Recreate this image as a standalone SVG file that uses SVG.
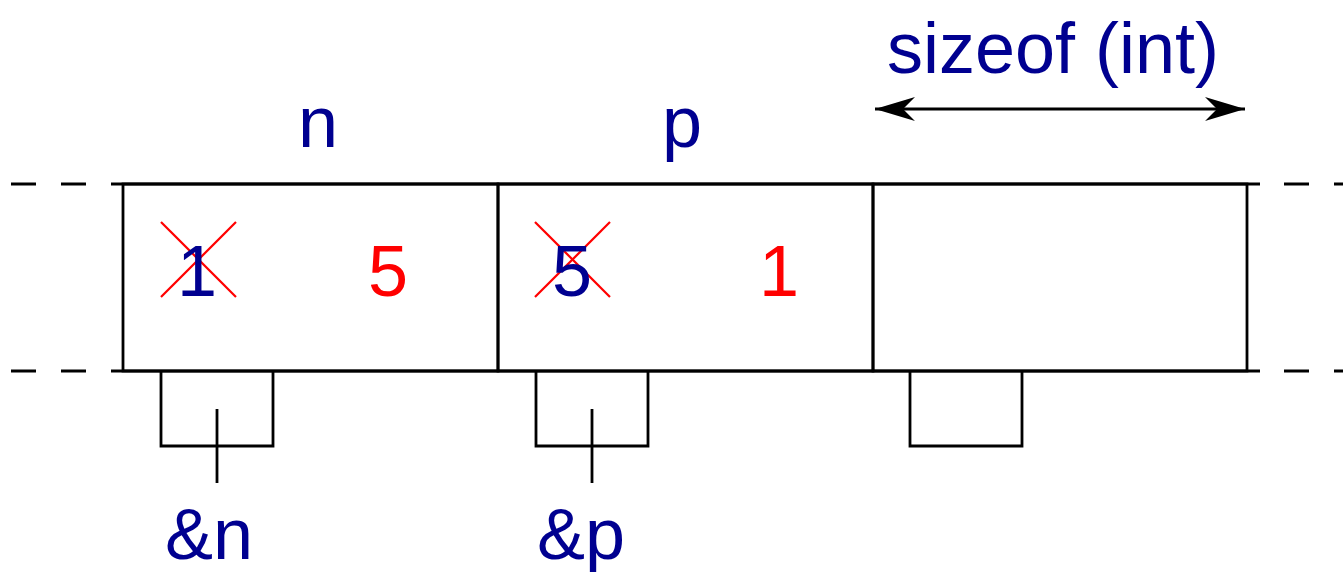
<svg xmlns="http://www.w3.org/2000/svg" width="1343" height="572" viewBox="0 0 1343 572">
<defs>
<style>
.ln{stroke:#000;stroke-width:2.8;fill:none}
.dash{stroke:#000;stroke-width:2.8;stroke-dasharray:25 25;fill:none}
.x{stroke:#ff0000;stroke-width:2.2}
.t{font-family:"Liberation Sans",Arial,sans-serif;font-size:72px}
.b{fill:#000090}
.r{fill:#ff0000}
</style>
<marker id="ah" viewBox="0 0 40 24" refX="40" refY="12" markerWidth="40" markerHeight="24" markerUnits="userSpaceOnUse" orient="auto-start-reverse">
<path d="M0,0 L40,12 L0,24 L12,12 Z" fill="#000"/>
</marker>
</defs>
<rect width="1343" height="572" fill="#fff"/>
<g id="rails">
<path class="dash" d="M11,184 H123 M11,371 H123"/>
<path class="dash" d="M1284,184 H1343 M1284,371 H1343"/>
<path class="ln" d="M123,184 H1260 M123,371 H1260"/>
</g>
<g id="cell-n">
<rect class="ln" x="123" y="184" width="375" height="187"/>
<line class="x" x1="161" y1="222" x2="236" y2="297"/>
<line class="x" x1="236" y1="222" x2="161" y2="297"/>
<text class="t b" x="177" y="296">1</text>
<text class="t r" x="368" y="296">5</text>
<text class="t b" x="298" y="147">n</text>
</g>
<g id="cell-p">
<rect class="ln" x="498" y="184" width="375" height="187"/>
<line class="x" x1="535" y1="222" x2="610" y2="297"/>
<line class="x" x1="610" y1="222" x2="535" y2="297"/>
<text class="t b" x="552" y="296">5</text>
<text class="t r" x="759" y="296">1</text>
<text class="t b" x="662" y="147">p</text>
</g>
<g id="cell-3">
<rect class="ln" x="873" y="184" width="374" height="187"/>
</g>
<g id="addr-n">
<path class="ln" d="M161,371 V446 H273 V371"/>
<text class="t b" x="165" y="559">&amp;n</text>
</g>
<g id="addr-p">
<path class="ln" d="M536,371 V446 H648 V371"/>
<text class="t b" x="537" y="559">&amp;p</text>
</g>
<g id="addr-3">
<path class="ln" d="M910,371 V446 H1022 V371"/>
</g>
<g id="size-label">
<text class="t b" x="887" y="73">sizeof (int)</text>
</g>
<g id="connectors">
<line class="ln" x1="217" y1="409" x2="217" y2="483"/>
<line class="ln" x1="592" y1="409" x2="592" y2="483"/>
<line class="ln" x1="875" y1="109" x2="1245" y2="109" marker-start="url(#ah)" marker-end="url(#ah)"/>
</g>
</svg>
